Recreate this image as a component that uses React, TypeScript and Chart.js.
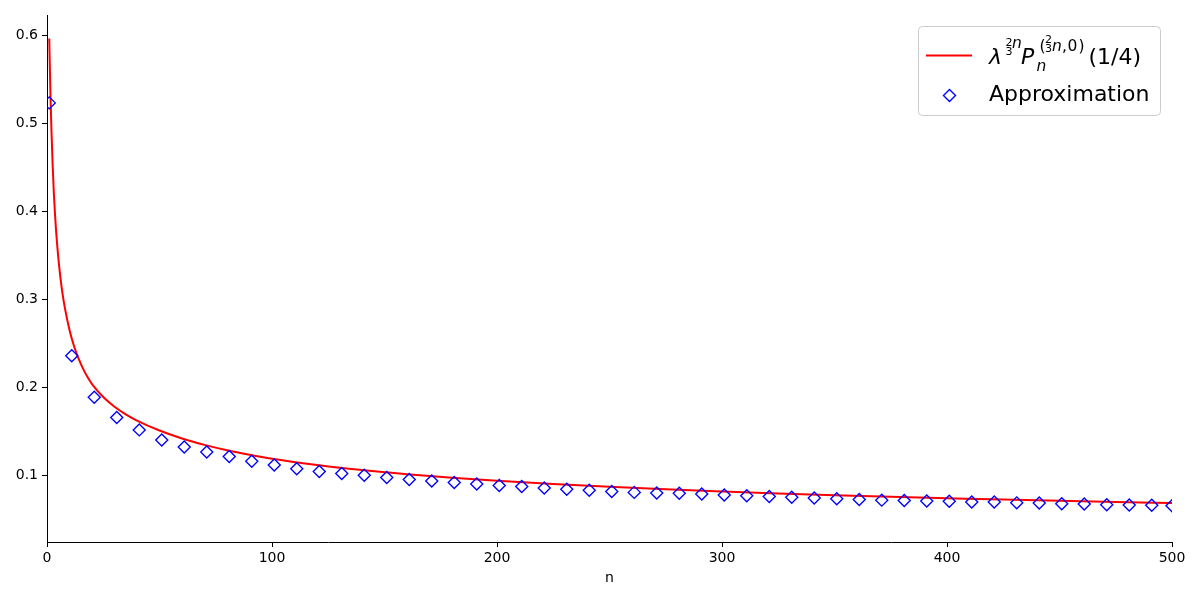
import React, { useEffect, useRef } from "react";
import { Chart, registerables } from "chart.js";

Chart.register(...registerables);

// ---- data ----
const lineN = [1, 1.5, 2, 2.5, 3, 3.5, 4, 5, 6, 7, 8, 10, 12, 14, 16, 18, 20, 25, 30, 35, 40, 50, 60, 70, 80, 90, 100, 120, 140, 160, 180, 200, 225, 250, 275, 300, 325, 350, 375, 400, 425, 450, 475, 500];
const lineValues = [0.596, 0.536, 0.49, 0.453, 0.423, 0.399, 0.379, 0.348, 0.324, 0.305, 0.2895, 0.2654, 0.2472, 0.233, 0.2215, 0.2119, 0.204, 0.1893, 0.1783, 0.1697, 0.1626, 0.1513, 0.1423, 0.135, 0.1289, 0.1238, 0.1193, 0.1121, 0.1064, 0.1017, 0.0977, 0.0943, 0.0906, 0.0874, 0.0846, 0.0821, 0.0799, 0.0779, 0.0761, 0.0745, 0.0729, 0.0715, 0.0702, 0.069];

const approxN = [1, 11, 21, 31, 41, 51, 61, 71, 81, 91, 101, 111, 121, 131, 141, 151, 161, 171, 181, 191, 201, 211, 221, 231, 241, 251, 261, 271, 281, 291, 301, 311, 321, 331, 341, 351, 361, 371, 381, 391, 401, 411, 421, 431, 441, 451, 461, 471, 481, 491, 500];
const approxValues = [0.523, 0.236, 0.189, 0.166, 0.152, 0.1406, 0.1325, 0.1268, 0.1219, 0.1165, 0.1121, 0.108, 0.1049, 0.1026, 0.1005, 0.0981, 0.0958, 0.094, 0.0924, 0.0906, 0.089, 0.0878, 0.086, 0.0847, 0.0836, 0.0822, 0.0811, 0.0804, 0.0801, 0.0793, 0.0782, 0.0773, 0.0763, 0.0757, 0.0746, 0.0738, 0.0731, 0.0723, 0.0719, 0.0713, 0.0711, 0.0703, 0.0701, 0.0692, 0.069, 0.0681, 0.0679, 0.0671, 0.0668, 0.0666, 0.066];

const xTicks = [0, 100, 200, 300, 400, 500];
const yTicks = [0.1, 0.2, 0.3, 0.4, 0.5, 0.6];
const xLabel = "n";
const approxLabel = "Approximation";

const FONT = "'DejaVu Sans'";
const RED = "#ff0000";
const BLUE = "#0000ff";

function drawLegend(ctx: CanvasRenderingContext2D) {
  ctx.save();
  // frame
  ctx.beginPath();
  (ctx as any).roundRect(918.5, 26.5, 242, 89, 4);
  ctx.fillStyle = "rgba(255,255,255,0.8)";
  ctx.fill();
  ctx.strokeStyle = "#cccccc";
  ctx.lineWidth = 1;
  ctx.stroke();

  // line sample
  ctx.beginPath();
  ctx.moveTo(926, 55.5);
  ctx.lineTo(972, 55.5);
  ctx.strokeStyle = RED;
  ctx.lineWidth = 2;
  ctx.stroke();

  // diamond sample
  const cx = 949.5, cy = 95.5, r = 6;
  ctx.beginPath();
  ctx.moveTo(cx - r, cy);
  ctx.lineTo(cx, cy - r);
  ctx.lineTo(cx + r, cy);
  ctx.lineTo(cx, cy + r);
  ctx.closePath();
  ctx.strokeStyle = BLUE;
  ctx.lineWidth = 1.4;
  ctx.stroke();

  ctx.fillStyle = "#000";
  ctx.textAlign = "left";
  ctx.textBaseline = "alphabetic";
  const put = (t: string, font: string, x: number, y: number) => {
    ctx.font = font;
    ctx.fillText(t, x, y);
  };
  const it = (s: number) => `italic ${s}px ${FONT}`;
  const rm = (s: number) => `${s}px ${FONT}`;
  const B = 64;
  // λ^{2/3 n}
  put("λ", it(22), 989, B);
  put("2", rm(11), 1005.5, 45.5);
  put("3", rm(11), 1005.5, 55);
  put("n", it(15.5), 1012, 48);
  // P_n^{(2/3 n, 0)}
  put("P", it(22), 1021, B);
  put("n", it(15.5), 1036.5, 71);
  put("(", rm(15.5), 1039.5, 51);
  put("2", rm(11), 1045, 42.5);
  put("3", rm(11), 1045, 52);
  put("n", it(15.5), 1052, 51);
  put(",", rm(15.5), 1062, 51);
  put("0", rm(15.5), 1067.5, 51);
  put(")", rm(15.5), 1078.5, 51);
  put("(1/4)", rm(22), 1088.5, B);

  // second entry
  put(approxLabel, rm(22), 989, 100.5);
  ctx.restore();
}

export default function App() {
  const canvasRef = useRef<HTMLCanvasElement | null>(null);

  useEffect(() => {
    const canvas = canvasRef.current;
    if (!canvas) return;
    const chart = new Chart(canvas, {
      type: "scatter",
      data: {
        datasets: [
          {
            label: "exact",
            data: lineN.map((n, i) => ({ x: n, y: lineValues[i] })),
            showLine: true,
            borderColor: RED,
            borderWidth: 2,
            pointRadius: 0,
            cubicInterpolationMode: "monotone",
            clip: 0,
            order: 2,
          } as any,
          {
            label: approxLabel,
            data: approxN.map((n, i) => ({ x: n, y: approxValues[i] })),
            showLine: false,
            pointStyle: "rectRot",
            pointRadius: 6,
            borderColor: BLUE,
            borderWidth: 1.4,
            backgroundColor: "rgba(0,0,0,0)",
            clip: 0,
            order: 1,
          } as any,
        ],
      },
      options: {
        animation: false,
        responsive: true,
        maintainAspectRatio: false,
        events: [],
        layout: { padding: { top: 15, right: 28, bottom: 0, left: 0 } },
        plugins: {
          legend: { display: false },
          tooltip: { enabled: false },
        },
        scales: {
          x: {
            type: "linear",
            min: 0,
            max: 500,
            afterBuildTicks: (s: any) => {
              s.ticks = xTicks.map((v) => ({ value: v }));
            },
            afterFit: (s: any) => {
              s.height = 58;
            },
            ticks: {
              color: "#000",
              font: { family: FONT, size: 14 },
              padding: 3,
              maxRotation: 0,
              callback: (v: any) => String(v),
            },
            grid: {
              display: true,
              drawOnChartArea: false,
              drawTicks: true,
              tickLength: 5,
              color: "#000",
              lineWidth: 1,
            },
            border: { display: true, color: "#000", width: 1 },
            title: {
              display: true,
              text: xLabel,
              color: "#000",
              font: { family: FONT, size: 14 },
              padding: { top: 0, bottom: 13 },
            },
          },
          y: {
            type: "linear",
            min: 0.0248,
            max: 0.6227,
            afterBuildTicks: (s: any) => {
              s.ticks = yTicks.map((v) => ({ value: v }));
            },
            afterFit: (s: any) => {
              s.width = 47;
            },
            ticks: {
              color: "#000",
              font: { family: FONT, size: 14 },
              padding: 4,
              callback: (v: any) => Number(v).toFixed(1),
            },
            grid: {
              display: true,
              drawOnChartArea: false,
              drawTicks: true,
              tickLength: 5,
              color: "#000",
              lineWidth: 1,
            },
            border: { display: true, color: "#000", width: 1 },
          },
        },
      },
      plugins: [
        {
          id: "mathLegend",
          afterDraw: (c: any) => drawLegend(c.ctx),
        },
      ],
    });
    return () => chart.destroy();
  }, []);

  return (
    <div style={{ position: "fixed", left: 0, top: 0, width: 1200, height: 600, background: "#fff" }}>
      <canvas ref={canvasRef} />
    </div>
  );
}
